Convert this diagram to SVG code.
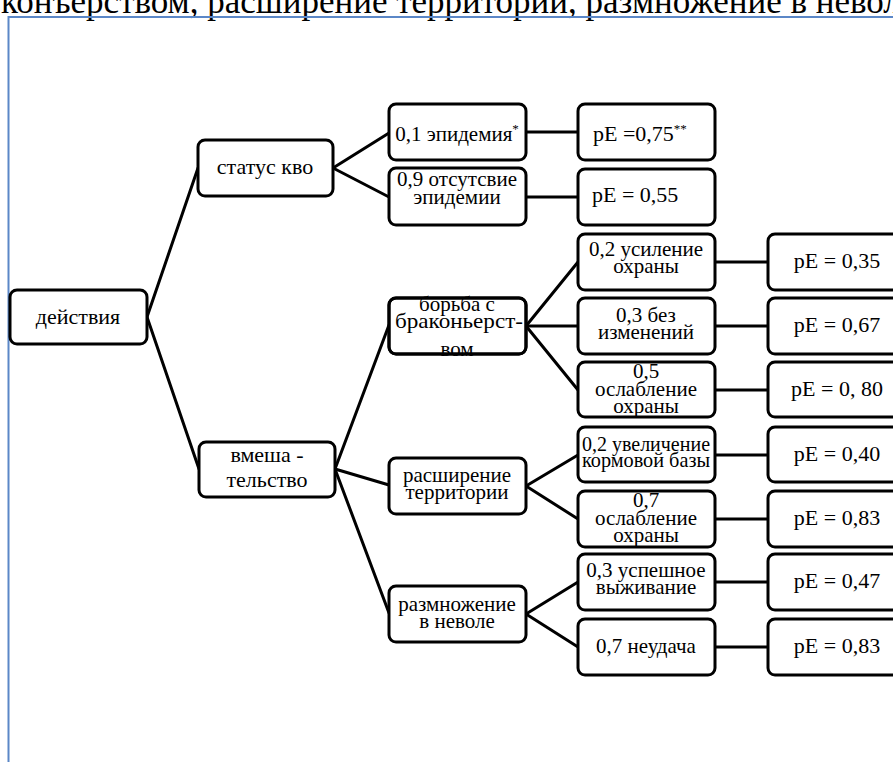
<svg xmlns="http://www.w3.org/2000/svg" width="893" height="762" viewBox="0 0 893 762">
<style>
.box{fill:#fff;stroke:#000;stroke-width:3}
.edge{fill:none;stroke:#000;stroke-width:3}
.t{font-family:"Liberation Serif","Times New Roman",serif;font-size:21px;fill:#000;text-anchor:middle}
.b{font-size:22px}
.s{text-anchor:start}
.sup{font-size:13px}
.c line{stroke:#000;stroke-width:3;stroke-linecap:round}
.frame{stroke:#5b87c7;stroke-width:2;fill:none}
</style>
<rect width="893" height="762" fill="#fff"/>
<text x="1" y="13" class="t s" style="font-size:35px">конъерством, расширение территории, размножение в неволе</text>
<path class="frame" d="M8.5,762 V17 H893"/>
<g id="connectors" class="c">
<line x1="147" y1="317" x2="198" y2="168"/>
<line x1="147" y1="317" x2="199" y2="469"/>
<line x1="333" y1="168" x2="389" y2="133"/>
<line x1="333" y1="168" x2="389" y2="197"/>
<line x1="335" y1="469" x2="389" y2="325"/>
<line x1="335" y1="469" x2="389" y2="485"/>
<line x1="335" y1="469" x2="389" y2="613"/>
<line x1="526" y1="326" x2="578" y2="262"/>
<line x1="526" y1="326" x2="578" y2="326"/>
<line x1="526" y1="326" x2="578" y2="390"/>
<line x1="526" y1="486" x2="578" y2="455"/>
<line x1="526" y1="486" x2="578" y2="519"/>
<line x1="526" y1="614" x2="578" y2="582"/>
<line x1="526" y1="614" x2="578" y2="647"/>
<line x1="526" y1="132" x2="578" y2="132"/>
<line x1="526" y1="197" x2="578" y2="197"/>
<line x1="715" y1="262" x2="768" y2="262"/>
<line x1="715" y1="326" x2="768" y2="326"/>
<line x1="715" y1="390" x2="768" y2="390"/>
<line x1="715" y1="455" x2="768" y2="455"/>
<line x1="715" y1="519" x2="768" y2="519"/>
<line x1="715" y1="582" x2="768" y2="582"/>
<line x1="715" y1="647" x2="768" y2="647"/>
</g>
<g id="n-deistviya"><rect class="box" x="10" y="290" width="137" height="54" rx="7"/><text class="t b" x="78" y="324">действия</text></g>
<g id="n-status"><rect class="box" x="198" y="140" width="135" height="56" rx="7"/><text class="t b" x="265" y="174">статус кво</text></g>
<g id="n-vmesh"><rect class="box" x="199" y="442" width="136" height="55" rx="7"/><text class="t b" x="267" y="462">вмеша -</text><text class="t b" x="267" y="487">тельство</text></g>
<g id="n-epid"><rect class="box" x="389" y="104" width="137" height="56" rx="7"/><text class="t" x="457" y="141">0,1 эпидемия<tspan class="sup" dy="-8">*</tspan></text></g>
<g id="n-noepid"><rect class="box" x="389" y="168" width="137" height="57" rx="7"/><text class="t" x="457" y="186">0,9 отсутсвие</text><text class="t" x="457" y="204">эпидемии</text></g>
<g id="n-pe075"><rect class="box" x="578" y="104" width="137" height="56" rx="7"/><text class="t b s" x="593" y="141">pE =0,75<tspan class="sup" dy="-8">**</tspan></text></g>
<g id="n-pe055"><rect class="box" x="578" y="169" width="137" height="56" rx="7"/><text class="t b s" x="592" y="202">pE = 0,55</text></g>
<g id="n-borba"><rect class="box" x="389" y="298" width="137" height="56" rx="7"/><text class="t" x="457" y="311">борьба с</text><text class="t" x="459" y="328" textLength="128" lengthAdjust="spacingAndGlyphs">браконьерст-</text><text class="t" x="457" y="356">вом</text><rect class="edge" x="389" y="298" width="137" height="56" rx="7"/></g>
<g id="n-rasshir"><rect class="box" x="389" y="458" width="137" height="56" rx="7"/><text class="t" x="457" y="482">расширение</text><text class="t" x="457" y="499">территории</text></g>
<g id="n-razmn"><rect class="box" x="389" y="586" width="137" height="56" rx="7"/><text class="t" x="457" y="611">размножение</text><text class="t" x="457" y="628">в неволе</text></g>
<g id="n-usil"><rect class="box" x="578" y="234" width="137" height="56" rx="7"/><text class="t" x="646" y="256">0,2 усиление</text><text class="t" x="646" y="273">охраны</text></g>
<g id="n-bez"><rect class="box" x="578" y="298" width="137" height="56" rx="7"/><text class="t" x="646" y="322">0,3 без</text><text class="t" x="646" y="339">изменений</text></g>
<g id="n-osl1"><rect class="box" x="578" y="362" width="137" height="55" rx="7"/><text class="t" x="646" y="378">0,5</text><text class="t" x="646" y="396">ослабление</text><text class="t" x="646" y="413">охраны</text></g>
<g id="n-uvel"><rect class="box" x="578" y="427" width="137" height="55" rx="7"/><text class="t" x="646" y="451" textLength="128" lengthAdjust="spacingAndGlyphs">0,2 увеличение</text><text class="t" x="646" y="467" textLength="128" lengthAdjust="spacingAndGlyphs">кормовой базы</text></g>
<g id="n-osl2"><rect class="box" x="578" y="491" width="137" height="56" rx="7"/><text class="t" x="646" y="507">0,7</text><text class="t" x="646" y="525">ослабление</text><text class="t" x="646" y="542">охраны</text></g>
<g id="n-uspeh"><rect class="box" x="578" y="554" width="137" height="56" rx="7"/><text class="t" x="646" y="577">0,3 успешное</text><text class="t" x="646" y="594">выживание</text></g>
<g id="n-neud"><rect class="box" x="578" y="619" width="137" height="56" rx="7"/><text class="t" x="646" y="653">0,7 неудача</text></g>
<g id="n-pe035"><rect class="box" x="768" y="234" width="150" height="56" rx="7"/><text class="t b" x="837" y="268">pE = 0,35</text></g>
<g id="n-pe067"><rect class="box" x="768" y="298" width="150" height="56" rx="7"/><text class="t b" x="837" y="332">pE = 0,67</text></g>
<g id="n-pe080"><rect class="box" x="768" y="362" width="150" height="55" rx="7"/><text class="t b" x="837" y="396">pE = 0, 80</text></g>
<g id="n-pe040"><rect class="box" x="768" y="427" width="150" height="55" rx="7"/><text class="t b" x="837" y="461">pE = 0,40</text></g>
<g id="n-pe083a"><rect class="box" x="768" y="491" width="150" height="56" rx="7"/><text class="t b" x="837" y="525">pE = 0,83</text></g>
<g id="n-pe047"><rect class="box" x="768" y="554" width="150" height="56" rx="7"/><text class="t b" x="837" y="588">pE = 0,47</text></g>
<g id="n-pe083b"><rect class="box" x="768" y="619" width="150" height="56" rx="7"/><text class="t b" x="837" y="653">pE = 0,83</text></g>
</svg>
